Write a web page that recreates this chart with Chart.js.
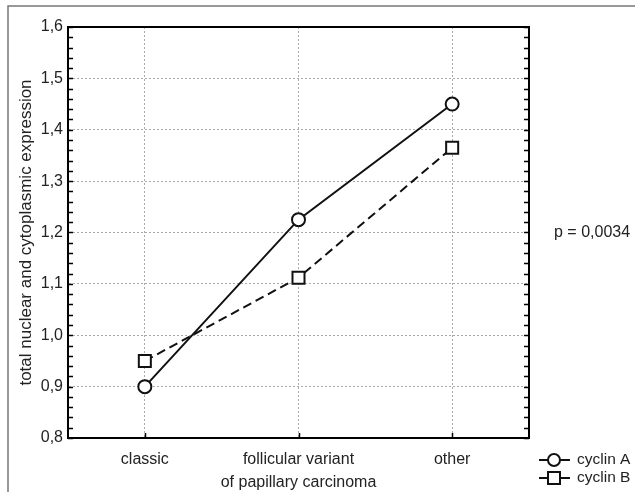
<!DOCTYPE html>
<html>
<head>
<meta charset="utf-8">
<script src="https://cdn.jsdelivr.net/npm/chart.js@4/dist/chart.umd.min.js"></script>
<style>
  body { margin: 0; background: #fff; }
  canvas { display: block; }
</style>
</head>
<body>
<canvas id="chart" width="635" height="492"></canvas>
<script>
// data
var categories = ['classic', ['follicular variant', 'of papillary carcinoma'], 'other'];
var cyclinA = [0.90, 1.225, 1.45];
var cyclinB = [0.95, 1.112, 1.365];
var seriesNames = ['cyclin A', 'cyclin B'];
var yTicks = [0.8, 0.9, 1.0, 1.1, 1.2, 1.3, 1.4, 1.5, 1.6];
var pValueText = 'p = 0,0034';

var FONT = '"Liberation Sans", Arial, sans-serif';

var decorations = {
    id: 'decorations',
    afterDraw: function(chart) {
        var ctx = chart.ctx;
        var area = chart.chartArea;
        var y = chart.scales.y;
        var x = chart.scales.x;
        ctx.save();

        // outer frame (top + left only, like the cropped figure)
        ctx.strokeStyle = '#777';
        ctx.lineWidth = 1.5;
        ctx.beginPath();
        ctx.moveTo(635, 6);
        ctx.lineTo(8, 6);
        ctx.lineTo(8, 492);
        ctx.stroke();

        // plot box
        ctx.strokeStyle = '#000';
        ctx.lineWidth = 2;
        ctx.strokeRect(area.left, area.top, area.right - area.left, area.bottom - area.top);

        // minor + major ticks on left and right, pointing inward
        ctx.lineWidth = 1.5;
        ctx.beginPath();
        for (var i = 0; i <= 40; i++) {
            var py = Math.round(y.getPixelForValue(0.8 + i * 0.02)) + 0.5;
            ctx.moveTo(area.left, py);
            ctx.lineTo(area.left + 5, py);
            ctx.moveTo(area.right, py);
            ctx.lineTo(area.right - 5, py);
        }
        // category ticks on the bottom axis
        for (var c = 0; c < categories.length; c++) {
            var px = Math.round(x.getPixelForValue(c)) + 0.5;
            ctx.moveTo(px, area.bottom);
            ctx.lineTo(px, area.bottom - 5);
        }
        ctx.stroke();

        // p value
        ctx.fillStyle = '#222';
        ctx.font = '16px ' + FONT;
        ctx.textBaseline = 'middle';
        ctx.textAlign = 'left';
        ctx.fillText(pValueText, area.right + 25, y.getPixelForValue(1.2));

        // legend
        var legendY = [460, 478];
        ctx.font = '15.5px ' + FONT;
        chart.data.datasets.forEach(function(ds, idx) {
            var ly = legendY[idx];
            ctx.strokeStyle = '#111';
            ctx.lineWidth = 2;
            ctx.setLineDash([]);
            ctx.beginPath();
            ctx.moveTo(539, ly);
            ctx.lineTo(570, ly);
            ctx.stroke();
            ctx.fillStyle = '#fff';
            if (ds.pointStyle === 'rect') {
                ctx.fillRect(548, ly - 6, 12, 12);
                ctx.strokeRect(548, ly - 6, 12, 12);
            } else {
                ctx.beginPath();
                ctx.arc(554, ly, 6, 0, Math.PI * 2);
                ctx.fill();
                ctx.stroke();
            }
            ctx.fillStyle = '#222';
            ctx.fillText(ds.label, 577, ly);
        });
        ctx.restore();
    }
};

var chart = new Chart(document.getElementById('chart'), {
    type: 'line',
    data: {
        labels: categories,
        datasets: [{
            label: seriesNames[0],
            data: cyclinA,
            borderColor: '#111',
            borderWidth: 2,
            pointStyle: 'circle',
            pointRadius: 6.5,
            pointHoverRadius: 6.5,
            pointBackgroundColor: '#fff',
            pointBorderColor: '#111',
            pointBorderWidth: 2,
            tension: 0
        }, {
            label: seriesNames[1],
            data: cyclinB,
            borderColor: '#111',
            borderWidth: 2,
            borderDash: [9, 5],
            pointStyle: 'rect',
            pointRadius: 8.5,
            pointHoverRadius: 8.5,
            pointBackgroundColor: '#fff',
            pointBorderColor: '#111',
            pointBorderWidth: 2,
            tension: 0
        }]
    },
    options: {
        responsive: false,
        animation: false,
        layout: { padding: { left: 0, top: 27, right: 106, bottom: 0 } },
        plugins: {
            legend: { display: false },
            tooltip: { enabled: false }
        },
        scales: {
            x: {
                offset: true,
                grid: { offset: false, color: '#aaa', lineWidth: 1, drawTicks: false },
                border: { display: true, color: '#000', width: 2, dash: [2, 2] },
                ticks: {
                    color: '#222',
                    padding: 10,
                    maxRotation: 0,
                    autoSkip: false,
                    font: { family: FONT, size: 16, lineHeight: 1.45 }
                },
                afterFit: function(scale) { scale.height = 54; }
            },
            y: {
                min: 0.8,
                max: 1.6,
                afterBuildTicks: function(scale) {
                    scale.ticks = yTicks.map(function(v) { return { value: v }; });
                },
                grid: { color: '#aaa', lineWidth: 1, drawTicks: false },
                border: { display: true, color: '#000', width: 2, dash: [2, 2] },
                ticks: {
                    color: '#222',
                    padding: 5,
                    font: { family: FONT, size: 16 },
                    callback: function(v) { return v.toFixed(1).replace('.', ','); }
                },
                title: {
                    display: true,
                    text: 'total nuclear and cytoplasmic expression',
                    color: '#222',
                    padding: { top: 16, bottom: 0 },
                    font: { family: FONT, size: 17 }
                },
                afterFit: function(scale) { scale.width = 68; }
            }
        }
    },
    plugins: [decorations]
});
</script>
</body>
</html>
